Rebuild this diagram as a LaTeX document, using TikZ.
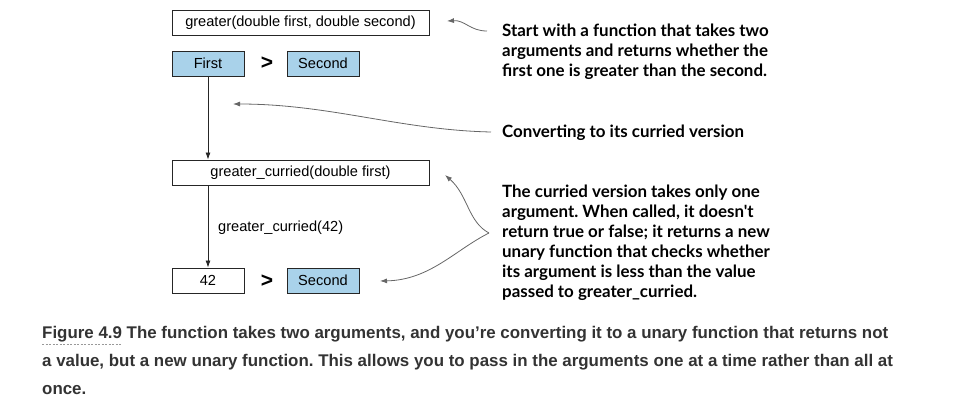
\documentclass[tikz,border=0pt]{standalone}
\usepackage{fontspec}
\setmainfont{Liberation Sans}
\newfontfamily\notefont{Lato}
\usetikzlibrary{arrows.meta}
\definecolor{boxblue}{HTML}{A9D2EA}
\definecolor{capgray}{HTML}{333333}
\frenchspacing
\tikzset{
  box/.style={draw=black!85, line width=0.9pt, minimum height=25pt, inner sep=0pt, font=\fontsize{14.6}{16}\selectfont},
  bluebox/.style={box, fill=boxblue, minimum width=72pt},
  whitebox/.style={box, fill=white},
  gt/.style={font=\bfseries\fontsize{21}{21}\selectfont},
  flow/.style={draw=black!85, line width=0.8pt, -{Latex[length=7pt,width=5pt]}},
  callout/.style={draw=black!60, line width=0.8pt, -{Latex[length=7pt,width=5pt]}},
  note/.style={anchor=north west, inner sep=0pt, align=left, font=\notefont\bfseries\fontsize{16.9}{20}\selectfont},
  caption/.style={anchor=north west, inner sep=0pt, align=left, text=capgray, font=\bfseries\fontsize{16.9}{28}\selectfont}
}
\begin{document}
\begin{tikzpicture}[x=1pt,y=-1pt]
\useasboundingbox (0,0) rectangle (959,402);
% boxes
\node[whitebox, minimum width=257pt] (fn) at (300.5,23) {greater(double first, double second)};
\node[bluebox] (first) at (208,63.5) {First};
\node[gt] (gt1) at (267,63) {>};
\node[bluebox] (second1) at (323,63.5) {Second};
\node[whitebox, minimum width=257pt] (cur) at (300.5,172.5) {greater\_curried(double first)};
\node[whitebox, minimum width=72pt] (ft) at (208,280.5) {42};
\node[gt] (gt2) at (267,281) {>};
\node[bluebox] (second2) at (323,280.5) {Second};
\node[anchor=west, inner sep=0pt, font=\fontsize{14.6}{16}\selectfont] (call) at (218,228) {greater\_curried(42)};
% flow arrows
\draw[flow] (first.south) -- (cur.north -| first.south);
\draw[flow] (cur.south -| ft.north) -- (ft.north);
% notes
\node[note] (n1) at (502,24) {Start with a function that takes two\\arguments and returns whether the\\first one is greater than the second.};
\node[note] (n2) at (502,125) {Converting to its curried version};
\node[note] (n3) at (502,185) {The curried version takes only one\\argument. When called, it doesn't\\return true or false; it returns a new\\unary function that checks whether\\its argument is less than the value\\passed to greater\_curried.};
% callout endpoints
\coordinate (a1) at (447,21);
\coordinate (a2) at (233,104);
\coordinate (a3) at (445,175);
\coordinate (a4) at (380,281);
\coordinate (s1) at (487,31);
\coordinate (s2) at (491,132);
\coordinate (s3) at (489,233);
\draw[callout] (s1) .. controls (470,31) and (465,20) .. (a1);
\draw[callout] (s2) .. controls (400,130) and (330,104) .. (a2);
\draw[callout] (s3) .. controls (468,222) and (468,195) .. (a3);
\draw[callout] (s3) .. controls (455,250) and (430,280) .. (a4);
% caption
\node[caption] (cap) at (42,326) {Figure 4.9 The function takes two arguments, and you’re converting it to a unary function that returns not\\a value, but a new unary function. This allows you to pass in the arguments one at a time rather than all at\\once.};
\coordinate (u1) at (42,344);
\coordinate (u2) at (122,344);
\draw[black!40, line width=0.6pt, dash pattern=on 2pt off 1.5pt] (u1) -- (u2);
\end{tikzpicture}
\end{document}
